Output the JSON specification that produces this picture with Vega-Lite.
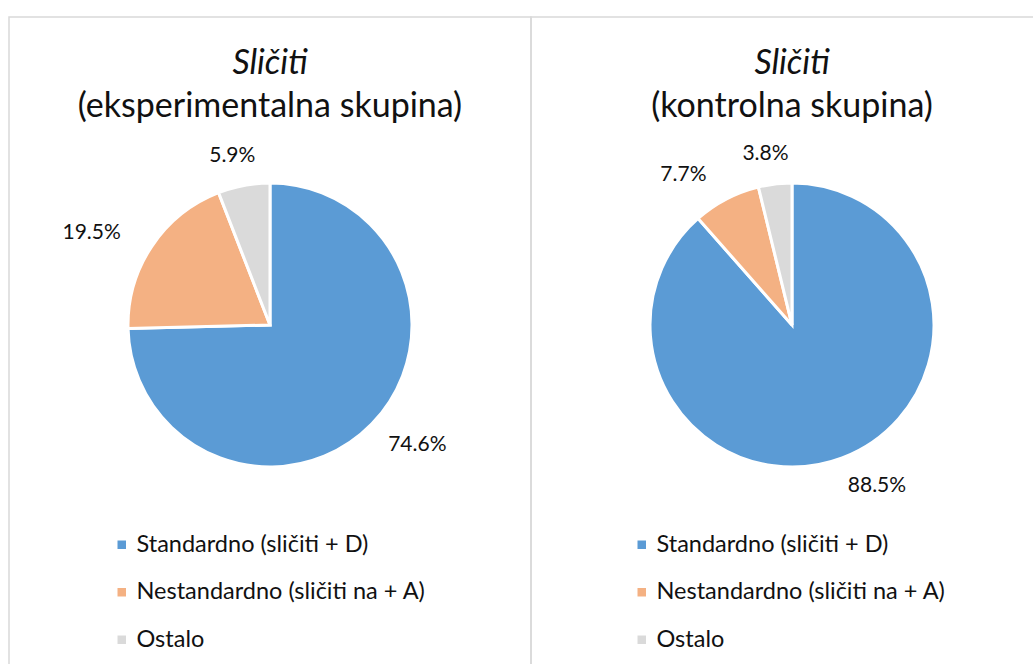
{
  "$schema": "https://vega.github.io/schema/vega-lite/v6.json",
  "padding": {"left": 8, "top": 16, "right": 0, "bottom": 0},
  "background": "white",
  "spacing": 0,
  "bounds": "flush",
  "config": {
    "font": "Lato",
    "view": {"stroke": "#D9D9D9", "strokeWidth": 1.5},
    "title": {"fontSize": 34, "fontWeight": "normal", "color": "#111", "subtitleFontSize": 34, "subtitleColor": "#111", "subtitlePadding": 9, "subtitleFont": "Lato", "anchor": "middle", "frame": "group"},
    "legend": {"symbolType": "square", "symbolSize": 100, "labelFontSize": 23.5, "labelColor": "#111", "rowPadding": 22.5, "labelOffset": 3, "labelLimit": 0, "padding": 0, "symbolOffset": 0, "title": null}
  },
  "datasets": {
    "eksp": [
      {"kategorija": "Standardno (sličiti + D)", "delez": 0.746, "red": 1},
      {"kategorija": "Nestandardno (sličiti na + A)", "delez": 0.195, "red": 2},
      {"kategorija": "Ostalo", "delez": 0.059, "red": 3}
    ],
    "kontr": [
      {"kategorija": "Standardno (sličiti + D)", "delez": 0.885, "red": 1},
      {"kategorija": "Nestandardno (sličiti na + A)", "delez": 0.077, "red": 2},
      {"kategorija": "Ostalo", "delez": 0.038, "red": 3}
    ]
  },
  "resolve": {"scale": {"color": "independent", "theta": "independent"}, "legend": {"color": "independent"}},
  "hconcat": [
    {
      "width": 522, "height": 660,
      "view": {"stroke": "#D9D9D9", "strokeWidth": 1.5},
      "title": {"text": "Sličiti", "fontStyle": "italic", "subtitle": "(eksperimentalna skupina)", "offset": -107},
      "data": {"name": "eksp"},
      "encoding": {
        "theta": {"field": "delez", "type": "quantitative", "stack": true},
        "order": {"field": "red", "type": "quantitative"}
      },
      "layer": [
        {
          "mark": {"type": "arc", "outerRadius": 142, "stroke": "white", "strokeWidth": 3, "y": {"expr": "height/2 - 22"}},
          "encoding": {
            "color": {"field": "kategorija", "type": "nominal",
              "scale": {"domain": ["Standardno (sličiti + D)", "Nestandardno (sličiti na + A)", "Ostalo"], "range": ["#5B9BD5", "#F4B183", "#DADADA"]},
              "sort": null,
              "legend": {"orient": "none", "legendX": 101, "legendY": 516}}
          }
        },
        {
          "mark": {"type": "text", "radius": 172, "dx": -5, "fontSize": 21, "color": "#111", "align": "left", "baseline": "middle", "y": {"expr": "height/2 - 22"}},
          "encoding": {"text": {"condition": {"test": "datum.red == 1", "field": "delez", "format": ".1%"}, "value": ""}}
        },
        {
          "mark": {"type": "text", "radius": 172, "dx": -6, "dy": 3, "fontSize": 21, "color": "#111", "align": "right", "baseline": "middle", "y": {"expr": "height/2 - 22"}},
          "encoding": {"text": {"condition": {"test": "datum.red == 2", "field": "delez", "format": ".1%"}, "value": ""}}
        },
        {
          "mark": {"type": "text", "radius": 172, "dx": -6, "fontSize": 21, "color": "#111", "align": "center", "baseline": "middle", "y": {"expr": "height/2 - 22"}},
          "encoding": {"text": {"condition": {"test": "datum.red == 3", "field": "delez", "format": ".1%"}, "value": ""}}
        }
      ]
    },
    {
      "width": 522, "height": 660,
      "view": {"stroke": "#D9D9D9", "strokeWidth": 1.5},
      "title": {"text": "Sličiti", "fontStyle": "italic", "subtitle": "(kontrolna skupina)", "offset": -107},
      "data": {"name": "kontr"},
      "encoding": {
        "theta": {"field": "delez", "type": "quantitative", "stack": true},
        "order": {"field": "red", "type": "quantitative"}
      },
      "layer": [
        {
          "mark": {"type": "arc", "outerRadius": 142, "stroke": "white", "strokeWidth": 3, "y": {"expr": "height/2 - 22"}},
          "encoding": {
            "color": {"field": "kategorija", "type": "nominal",
              "scale": {"domain": ["Standardno (sličiti + D)", "Nestandardno (sličiti na + A)", "Ostalo"], "range": ["#5B9BD5", "#F4B183", "#DADADA"]},
              "sort": null,
              "legend": {"orient": "none", "legendX": 99, "legendY": 516}}
          }
        },
        {
          "mark": {"type": "text", "radius": 172, "dx": -5, "fontSize": 21, "color": "#111", "align": "left", "baseline": "middle", "y": {"expr": "height/2 - 22"}},
          "encoding": {"text": {"condition": {"test": "datum.red == 1", "field": "delez", "format": ".1%"}, "value": ""}}
        },
        {
          "mark": {"type": "text", "radius": 172, "dx": -6, "dy": 3, "fontSize": 21, "color": "#111", "align": "right", "baseline": "middle", "y": {"expr": "height/2 - 22"}},
          "encoding": {"text": {"condition": {"test": "datum.red == 2", "field": "delez", "format": ".1%"}, "value": ""}}
        },
        {
          "mark": {"type": "text", "radius": 172, "dx": -6, "fontSize": 21, "color": "#111", "align": "center", "baseline": "middle", "y": {"expr": "height/2 - 22"}},
          "encoding": {"text": {"condition": {"test": "datum.red == 3", "field": "delez", "format": ".1%"}, "value": ""}}
        }
      ]
    }
  ]
}
